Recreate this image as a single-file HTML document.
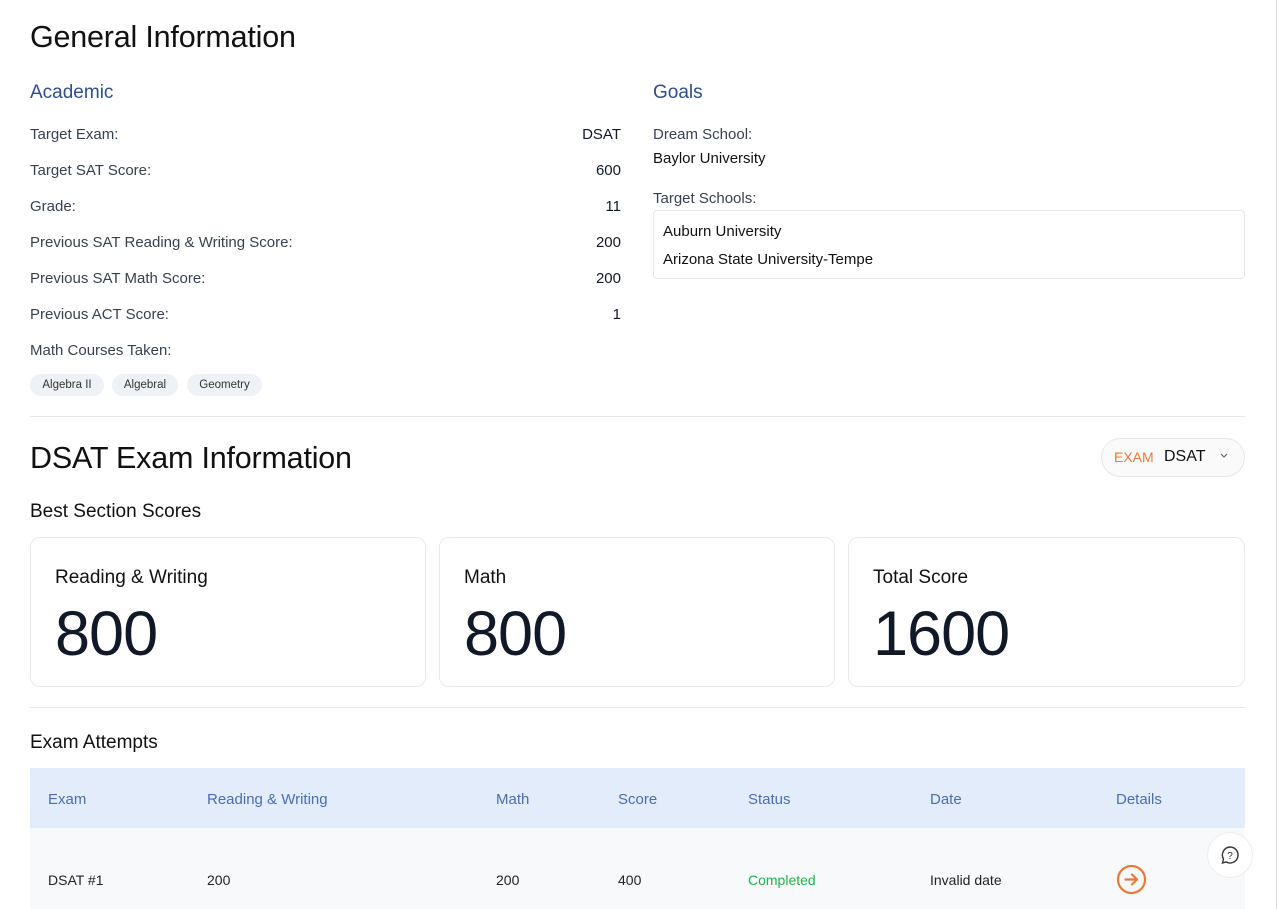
<!DOCTYPE html>
<html><head><meta charset="utf-8"><style>
*{box-sizing:border-box;margin:0;padding:0}
body{width:1278px;height:909px;overflow:hidden;background:#fff;font-family:"Liberation Sans",sans-serif;color:#1f2937;position:relative}
.a{position:absolute;white-space:nowrap}
.lbl{font-size:15px;color:#374151}
.val{font-size:15px;color:#111827;text-align:right}
.h1{font-size:30.5px;color:#111;letter-spacing:-0.2px}
.h2{font-size:19px;color:#2f4e8a}
.chip{position:absolute;top:374px;height:22px;border-radius:11px;background:#eef1f5;font-size:11.5px;line-height:22px;text-align:center;color:#333}
.card{position:absolute;top:537px;width:396px;height:150px;border:1px solid #e8eaee;border-radius:10px}
.card .t{position:absolute;left:24px;top:29px;font-size:19px;color:#111}
.card .n{position:absolute;left:24px;top:65px;font-size:63px;line-height:1;color:#111827;letter-spacing:-1px}
.th{font-size:15px;color:#4a6eb0;top:791px}
.td{font-size:14px;color:#222;top:872px}
</style></head><body>
<div class="a h1" style="left:30px;top:20px">General Information</div>
<div class="a h2" style="left:30px;top:82px">Academic</div>
<div class="a h2" style="left:653px;top:82px">Goals</div>

<div class="a lbl" style="left:30px;top:126px">Target Exam:</div><div class="a val" style="right:657px;top:126px">DSAT</div>
<div class="a lbl" style="left:30px;top:162px">Target SAT Score:</div><div class="a val" style="right:657px;top:162px">600</div>
<div class="a lbl" style="left:30px;top:198px">Grade:</div><div class="a val" style="right:657px;top:198px">11</div>
<div class="a lbl" style="left:30px;top:234px">Previous SAT Reading &amp; Writing Score:</div><div class="a val" style="right:657px;top:234px">200</div>
<div class="a lbl" style="left:30px;top:270px">Previous SAT Math Score:</div><div class="a val" style="right:657px;top:270px">200</div>
<div class="a lbl" style="left:30px;top:306px">Previous ACT Score:</div><div class="a val" style="right:657px;top:306px">1</div>
<div class="a lbl" style="left:30px;top:342px">Math Courses Taken:</div>
<div class="chip" style="left:30px;width:74px">Algebra II</div>
<div class="chip" style="left:112px;width:66px">Algebral</div>
<div class="chip" style="left:187px;width:75px">Geometry</div>

<div class="a lbl" style="left:653px;top:126px">Dream School:</div>
<div class="a" style="left:653px;top:150px;font-size:15px;color:#111">Baylor University</div>
<div class="a lbl" style="left:653px;top:190px">Target Schools:</div>
<div class="a" style="left:653px;top:210px;width:592px;height:69px;border:1px solid #e3e6ea;border-radius:4px"></div>
<div class="a" style="left:663px;top:223px;font-size:15px;color:#111">Auburn University</div>
<div class="a" style="left:663px;top:251px;font-size:15px;color:#111">Arizona State University-Tempe</div>

<div class="a" style="left:30px;top:416px;width:1215px;height:1px;background:#e5e7eb"></div>
<div class="a h1" style="left:30px;top:441px">DSAT Exam Information</div>
<div class="a" style="left:1101px;top:438px;width:144px;height:39px;border:1px solid #e5e7eb;border-radius:20px;background:#fafafa"></div>
<div class="a" style="left:1114px;top:449px;font-size:14px;color:#e8793a">EXAM</div>
<div class="a" style="left:1164px;top:448px;font-size:16px;color:#111">DSAT</div>
<svg class="a" style="left:1219px;top:452px" width="10" height="8"><path d="M2 2 L5 5 L8 2" stroke="#666" stroke-width="1.2" fill="none"/></svg>
<div class="a" style="left:30px;top:501px;font-size:19px;color:#111">Best Section Scores</div>
<div class="card" style="left:30px"><div class="t">Reading &amp; Writing</div><div class="n">800</div></div>
<div class="card" style="left:439px"><div class="t">Math</div><div class="n">800</div></div>
<div class="card" style="left:848px;width:397px"><div class="t">Total Score</div><div class="n">1600</div></div>
<div class="a" style="left:30px;top:707px;width:1215px;height:1px;background:#e5e7eb"></div>
<div class="a" style="left:30px;top:732px;font-size:19px;color:#111">Exam Attempts</div>
<div class="a" style="left:30px;top:768px;width:1215px;height:60px;background:#e3ecfb"></div>
<div class="a" style="left:30px;top:828px;width:1215px;height:81px;background:#f8f9fb"></div>
<div class="a th" style="left:48px">Exam</div>
<div class="a th" style="left:207px">Reading &amp; Writing</div>
<div class="a th" style="left:496px">Math</div>
<div class="a th" style="left:618px">Score</div>
<div class="a th" style="left:748px">Status</div>
<div class="a th" style="left:930px">Date</div>
<div class="a th" style="left:1116px">Details</div>
<div class="a td" style="left:48px">DSAT #1</div>
<div class="a td" style="left:207px">200</div>
<div class="a td" style="left:496px">200</div>
<div class="a td" style="left:618px">400</div>
<div class="a td" style="left:748px;color:#22b14c">Completed</div>
<div class="a td" style="left:930px">Invalid date</div>
<svg class="a" style="left:1116px;top:864px" width="31" height="31"><circle cx="15.5" cy="15.5" r="13.5" stroke="#e8793a" stroke-width="2.2" fill="none"/><path d="M9.5 15.5 H21 M16 10.5 L21 15.5 L16 20.5" stroke="#e8793a" stroke-width="2.2" fill="none" stroke-linecap="round" stroke-linejoin="round"/></svg>
<div class="a" style="left:1207px;top:832px;width:46px;height:46px;border-radius:50%;background:#fff;border:1px solid #eee"></div>
<svg class="a" style="left:1220px;top:845px" width="20" height="20"><path d="M10 2 A8 8 0 1 1 6 16.9 L2.5 18 L3.5 14 A8 8 0 0 1 10 2 Z" stroke="#333" stroke-width="1.4" fill="none"/><text x="10" y="14" font-size="10" text-anchor="middle" fill="#333" font-family="Liberation Sans">?</text></svg>
<div class="a" style="left:1276px;top:0;width:1px;height:909px;background:#ddd"></div>
</body></html>
